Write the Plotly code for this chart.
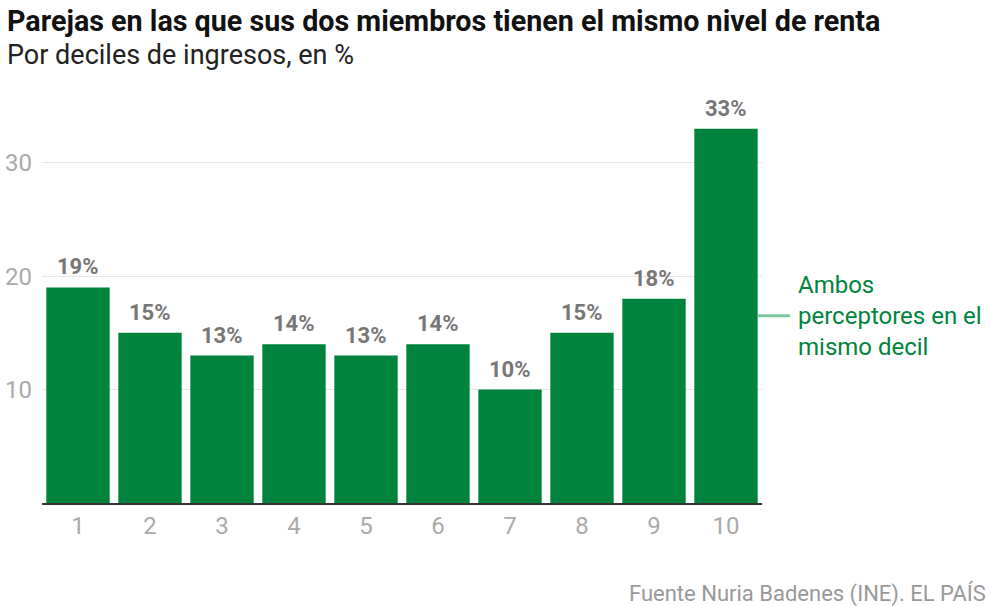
import plotly.graph_objects as go

deciles = ["1", "2", "3", "4", "5", "6", "7", "8", "9", "10"]
values = [19, 15, 13, 14, 13, 14, 10, 15, 18, 33]
labels = [f"{v}%" for v in values]
y_ticks = [10, 20, 30]

title = "Parejas en las que sus dos miembros tienen el mismo nivel de renta"
subtitle = "Por deciles de ingresos, en %"
legend_text = "Ambos<br>perceptores en el<br>mismo decil"
legend_y = 16.5
source = "Fuente Nuria Badenes (INE). EL PAÍS"

GREEN = "#00843d"
FONT = "Roboto"

fig = go.Figure()
fig.add_trace(go.Bar(
    x=deciles, y=values, marker_color=GREEN, marker_line_width=0,
    hoverinfo="skip",
))

annotations = [
    dict(text=f"<b>{title}</b>", xref="paper", yref="paper", x=-0.0514, y=1.214,
         xanchor="left", yanchor="middle", showarrow=False,
         font=dict(family=FONT, size=28.7, color="#111111")),
    dict(text=subtitle, xref="paper", yref="paper", x=-0.0514, y=1.128,
         xanchor="left", yanchor="middle", showarrow=False,
         font=dict(family=FONT, size=27, color="#222222")),
    dict(text=legend_text, xref="paper", yref="y", x=1.0, y=legend_y, xshift=34,
         xanchor="left", yanchor="middle", align="left", showarrow=False,
         font=dict(family=FONT, size=24, color=GREEN)),
    dict(text=source, xref="paper", yref="paper", x=1.314, y=-0.229,
         xanchor="right", yanchor="middle", showarrow=False,
         font=dict(family=FONT, size=22, color="#999999")),
]
for i, (v, lab) in enumerate(zip(values, labels)):
    annotations.append(dict(
        text=f"<b>{lab}</b>", x=i, y=v, xref="x", yref="y", yanchor="bottom",
        yshift=6, showarrow=False, font=dict(family=FONT, size=22, color="#777777"),
    ))

fig.update_layout(
    width=991, height=606,
    margin=dict(l=42, r=229, t=106, b=103, autoexpand=False),
    paper_bgcolor="white", plot_bgcolor="white",
    bargap=0.12,
    showlegend=False,
    font=dict(family=FONT),
    xaxis=dict(
        type="category", showgrid=False, showline=True, linecolor="#333333", linewidth=1.5,
        ticks="", tickfont=dict(size=24, color="#aaaaaa", family=FONT), ticklabelstandoff=0,
    ),
    yaxis=dict(
        range=[0, 35], tickvals=y_ticks, showgrid=True, gridcolor="#e6e6e6", gridwidth=1,
        zeroline=False, showline=False, ticks="",
        tickfont=dict(size=24, color="#aaaaaa", family=FONT), ticklabelstandoff=9,
    ),
    annotations=annotations,
)
fig.add_shape(type="line", xref="paper", yref="y", x0=0.994, x1=1.039, y0=legend_y, y1=legend_y,
              line=dict(color="#7cc69c", width=3))

fig.write_html("out.html", config={"displayModeBar": False},
               post_script="document.body.style.margin='0';")
